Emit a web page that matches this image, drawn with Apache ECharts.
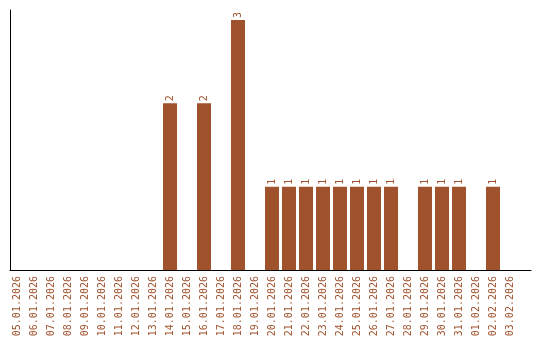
<!DOCTYPE html>
<html><head><meta charset="utf-8">
<script src="https://cdn.jsdelivr.net/npm/echarts@6/dist/echarts.min.js"></script>
<style>html,body{margin:0;padding:0;background:#fff}#c{width:540px;height:340px}</style>
</head><body><div id="c"></div>
<script>
const categories = ["05.01.2026","06.01.2026","07.01.2026","08.01.2026","09.01.2026","10.01.2026","11.01.2026","12.01.2026","13.01.2026","14.01.2026","15.01.2026","16.01.2026","17.01.2026","18.01.2026","19.01.2026","20.01.2026","21.01.2026","22.01.2026","23.01.2026","24.01.2026","25.01.2026","26.01.2026","27.01.2026","28.01.2026","29.01.2026","30.01.2026","31.01.2026","01.02.2026","02.02.2026","03.02.2026"];
const values = [0,0,0,0,0,0,0,0,0,2,0,2,0,3,0,1,1,1,1,1,1,1,1,0,1,1,1,0,1,0];
const color = '#a0522d';
const chart = echarts.init(document.getElementById('c'), null, {renderer:'canvas'});
chart.setOption({
  animation:false,
  grid:[
    {left:8.5,right:21.5,top:10,bottom:70,containLabel:false},
    {left:10,right:9,top:10,bottom:70,containLabel:false}
  ],
  xAxis:[
    {type:'category',data:categories,gridIndex:0,
      axisLine:{show:false},
      axisTick:{show:false},
      axisLabel:{rotate:90,interval:0,color:color,fontFamily:'DejaVu Sans Mono',fontSize:10,margin:6}},
    {type:'value',gridIndex:1,min:0,max:1,
      axisLine:{show:true,lineStyle:{color:'#000',width:1}},
      axisTick:{show:false},axisLabel:{show:false},splitLine:{show:false}}
  ],
  yAxis:[
    {type:'value',gridIndex:0,min:0,max:3.12,
      axisLine:{show:false},
      axisTick:{show:false},axisLabel:{show:false},splitLine:{show:false}},
    {type:'value',gridIndex:1,min:0,max:1,
      axisLine:{show:true,lineStyle:{color:'#000',width:1}},
      axisTick:{show:false},axisLabel:{show:false},splitLine:{show:false}}
  ],
  series:[{type:'bar',xAxisIndex:0,yAxisIndex:0,data:values.map(v=>v===0?null:v),barWidth:14,
    itemStyle:{color:color},
    label:{show:true,position:'top',rotate:90,align:'left',verticalAlign:'middle',distance:2,
      color:color,fontFamily:'DejaVu Sans Mono',fontSize:10}}]
});
</script></body></html>
